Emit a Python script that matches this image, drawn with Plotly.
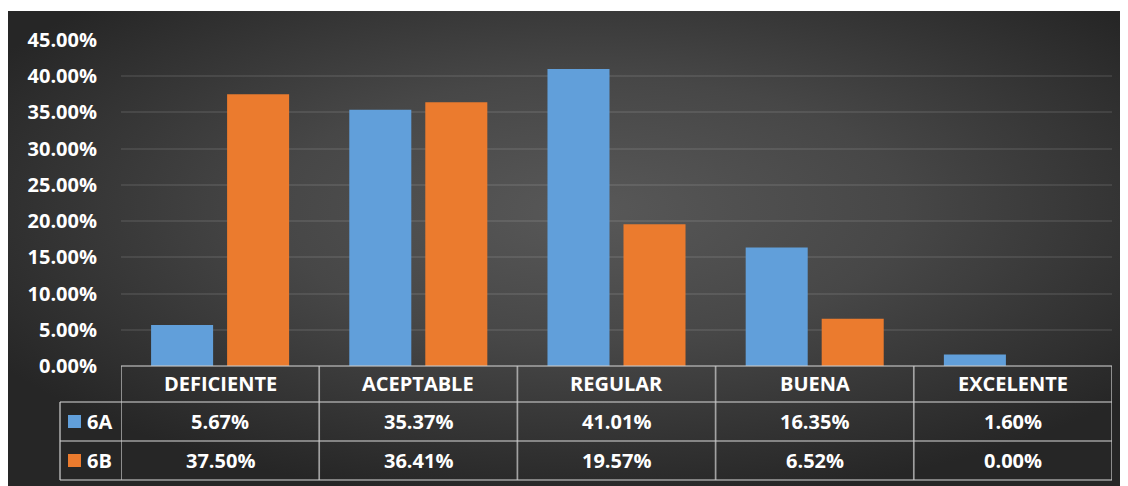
import base64
import plotly.graph_objects as go

categories = ["DEFICIENTE", "ACEPTABLE", "REGULAR", "BUENA", "EXCELENTE"]
series_names = ["6A", "6B"]
values_6a = [5.67, 35.37, 41.01, 16.35, 1.60]
values_6b = [37.50, 36.41, 19.57, 6.52, 0.00]
y_ticks = [0, 5, 10, 15, 20, 25, 30, 35, 40, 45]

BLUE = "#619fda"
ORANGE = "#eb7b2e"
FONT = "Open Sans"

OFF = 8  # page offset of the figure (body margin)
W, H = 1128, 486
L, R, T, B = 113, 24, 32, 128
PW, PH = W - L - R, H - T - B


def xp(px):  # page px -> paper x
    return (px - OFF - L) / PW


def yp(py):  # page px -> paper y
    return (H - B - (py - OFF)) / PH


fig = go.Figure()
fig.add_trace(go.Bar(x=categories, y=[v / 100 for v in values_6a], name=series_names[0],
                     marker=dict(color=BLUE, line=dict(width=0))))
fig.add_trace(go.Bar(x=categories, y=[v / 100 for v in values_6b], name=series_names[1],
                     marker=dict(color=ORANGE, line=dict(width=0))))

# radial gradient background
svg = ("<svg xmlns='http://www.w3.org/2000/svg' width='1120' height='475' viewBox='0 0 1120 475' "
       "preserveAspectRatio='none'><defs><radialGradient id='g' cx='0.52' cy='0.42' r='0.62'>"
       "<stop offset='0' stop-color='#585858'/><stop offset='0.45' stop-color='#474747'/>"
       "<stop offset='1' stop-color='#262626'/></radialGradient></defs>"
       "<rect width='1120' height='475' fill='url(#g)'/></svg>")
src = "data:image/svg+xml;base64," + base64.b64encode(svg.encode()).decode()
fig.add_layout_image(dict(source=src, xref="paper", yref="paper", x=xp(8), y=yp(11),
                          sizex=(1128 - 8) / PW, sizey=(486 - 11) / PH, xanchor="left",
                          yanchor="top", sizing="stretch", layer="below"))

shapes = []
LC = "rgba(200,200,200,0.75)"
LW = 1.7
# horizontal table lines
for py, full in [(366, False), (402, True), (441, True), (480, True)]:
    shapes.append(dict(type="line", xref="paper", yref="paper",
                       x0=xp(60) if full else 0, x1=1,
                       y0=yp(py), y1=yp(py), line=dict(color=LC, width=LW)))
# vertical lines at category boundaries
for i in range(len(categories) + 1):
    shapes.append(dict(type="line", xref="x", yref="paper", x0=i - 0.5, x1=i - 0.5,
                       y0=yp(366), y1=yp(480), line=dict(color=LC, width=LW)))
shapes.append(dict(type="line", xref="paper", yref="paper", x0=xp(60), x1=xp(60),
                   y0=yp(402), y1=yp(480), line=dict(color=LC, width=LW)))
# legend keys
for py, col in [(415, BLUE), (454, ORANGE)]:
    shapes.append(dict(type="rect", xref="paper", yref="paper", x0=xp(68), x1=xp(81),
                       y0=yp(py), y1=yp(py + 13), fillcolor=col, line=dict(width=0)))

annotations = []
tf = dict(family=FONT, size=20, color="white", weight="bold")
for i, c in enumerate(categories):
    annotations.append(dict(x=i, y=yp(384), xref="x", yref="paper", text=c, showarrow=False,
                            font=tf, xanchor="center", yanchor="middle"))
    annotations.append(dict(x=i, y=yp(422), xref="x", yref="paper", text=f"{values_6a[i]:.2f}%",
                            showarrow=False, font=tf, xanchor="center", yanchor="middle"))
    annotations.append(dict(x=i, y=yp(461), xref="x", yref="paper", text=f"{values_6b[i]:.2f}%",
                            showarrow=False, font=tf, xanchor="center", yanchor="middle"))
for py, name in [(422, series_names[0]), (461, series_names[1])]:
    annotations.append(dict(x=xp(85), y=yp(py), xref="paper", yref="paper", text=name,
                            showarrow=False, font=tf, xanchor="left", yanchor="middle"))

fig.update_layout(
    width=W, height=H,
    margin=dict(l=L, r=R, t=T, b=B, pad=0),
    paper_bgcolor="white", plot_bgcolor="rgba(0,0,0,0)",
    barmode="group", bargap=0.233, bargroupgap=0.184,
    showlegend=False,
    shapes=shapes, annotations=annotations,
    xaxis=dict(showticklabels=False, showgrid=False, zeroline=False, showline=False,
               ticks="", range=[-0.5, 4.5]),
    yaxis=dict(range=[0, 0.45], tickvals=[v / 100 for v in y_ticks],
               ticktext=[f"{v:.2f}%" for v in y_ticks], showgrid=True,
               gridcolor="rgba(255,255,255,0.09)", gridwidth=1.7, zeroline=False,
               showline=False, ticks="", ticklabelstandoff=23,
               tickfont=dict(family=FONT, size=20, color="white", weight="bold")),
)

fig.write_html("out.html")
